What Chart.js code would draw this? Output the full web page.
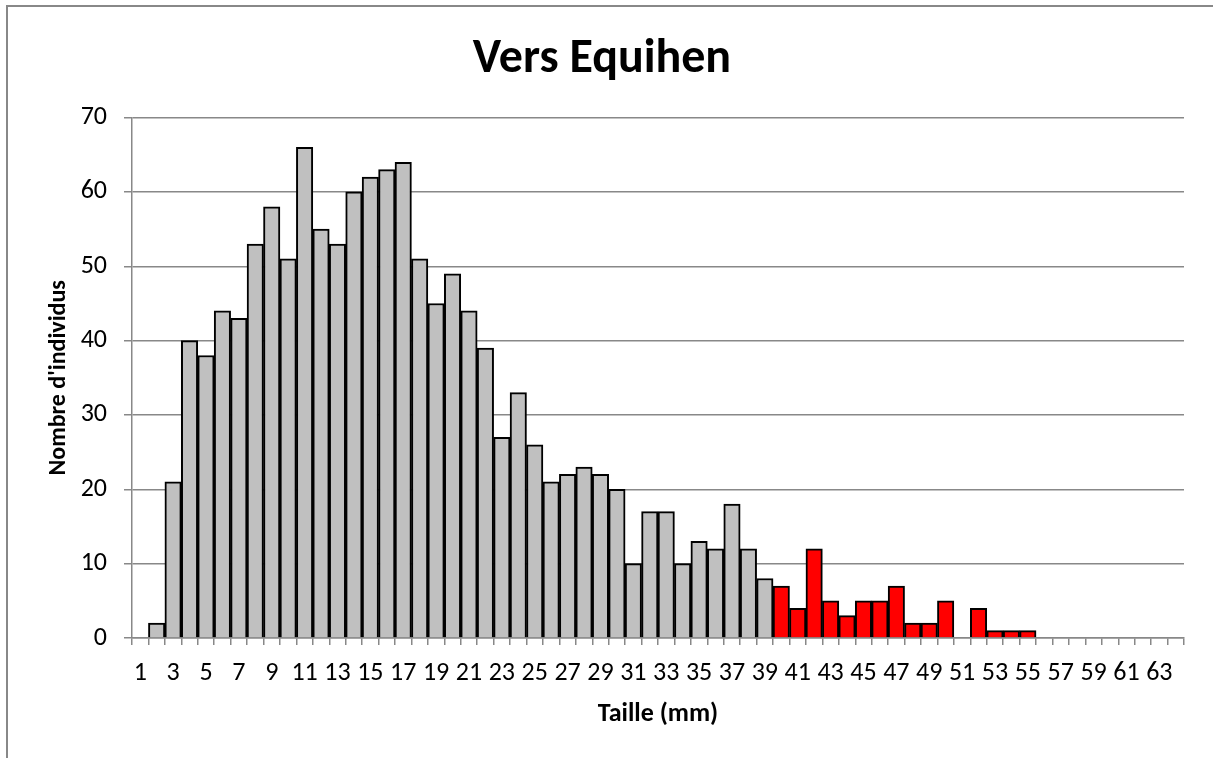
<!DOCTYPE html>
<html lang="fr">
<head>
<meta charset="utf-8">
<title>Vers Equihen</title>
<script src="https://cdn.jsdelivr.net/npm/chart.js@4.4.0/dist/chart.umd.min.js"></script>
<style>
  html,body{margin:0;padding:0;background:#fff;}
  #wrap{position:relative;width:1213px;height:758px;overflow:hidden;}
  #cadre{position:absolute;left:6px;top:5px;width:1300px;height:900px;
         border-top:2px solid #888;border-left:2px solid #888;pointer-events:none;}
  canvas{position:absolute;left:0;top:0;}
</style>
</head>
<body>
<div id="wrap">
  <div id="cadre"></div>
  <canvas id="histo" width="1213" height="758"></canvas>
</div>
<script>
// classes de taille (mm)
const tailles = [
  '1','2','3','4','5','6','7','8','9','10','11','12','13','14','15','16',
  '17','18','19','20','21','22','23','24','25','26','27','28','29','30','31','32',
  '33','34','35','36','37','38','39','40','41','42','43','44','45','46','47','48',
  '49','50','51','52','53','54','55','56','57','58','59','60','61','62','63','64'
];
// nombre d'individus par classe
const effectifs = [
  0, 2, 21, 40, 38, 44, 43, 53, 58, 51, 66, 55, 53, 60, 62, 63,
  64, 51, 45, 49, 44, 39, 27, 33, 26, 21, 22, 23, 22, 20, 10, 17,
  17, 10, 13, 12, 18, 12, 8, 7, 4, 12, 5, 3, 5, 5, 7, 2,
  2, 5, 0, 4, 1, 1, 1, 0, 0, 0, 0, 0, 0, 0, 0, 0
];
const graduationsY = [0, 10, 20, 30, 40, 50, 60, 70];
const tailleMinRouge = 40;   // les grands individus en rouge

const gris = '#888888';
const police = "Calibri, Carlito, Lato, 'Open Sans', sans-serif";

new Chart(document.getElementById('histo'), {
  type: 'bar',
  data: {
    labels: tailles,
    datasets: [{
      data: effectifs,
      backgroundColor: tailles.map(t => Number(t) >= tailleMinRouge ? '#ff0000' : '#c0c0c0'),
      borderColor: '#000',
      borderWidth: 2,
      barPercentage: 1,
      categoryPercentage: 1
    }]
  },
  options: {
    responsive: false,
    animation: false,
    layout: { padding: { left: 20, right: 29, top: 0, bottom: 0 } },
    plugins: {
      legend: { display: false },
      tooltip: { enabled: false },
      title: {
        display: true,
        text: 'Vers Equihen',
        color: '#000',
        font: { family: police, size: 48, weight: 'bold' },
        padding: { top: 31, bottom: 29 }
      }
    },
    scales: {
      x: {
        offset: true,
        grid: { offset: true, drawOnChartArea: false, color: gris, lineWidth: 1.5, tickLength: 7 },
        border: { color: gris, width: 1.5 },
        ticks: {
          autoSkip: false, maxRotation: 0, padding: 13, color: '#000',
          font: { family: police, size: 26 },
          callback: (v, i) => i % 2 === 0 ? tailles[i] : ''
        },
        title: {
          display: true, text: 'Taille (mm)', color: '#000',
          font: { family: police, size: 26, weight: 'bold' },
          padding: { top: 0, bottom: 28 }
        },
        afterFit: s => { s.height = 120; }
      },
      y: {
        min: 0, max: 70,
        afterBuildTicks: s => { s.ticks = graduationsY.map(v => ({ value: v })); },
        grid: { color: gris, lineWidth: 1.5, tickLength: 8 },
        border: { color: gris, width: 1.5 },
        ticks: { padding: 17, color: '#000', font: { family: police, size: 26 } },
        title: {
          display: true, text: "Nombre d'individus", color: '#000',
          font: { family: police, size: 24, weight: 'bold' },
          padding: { top: 25, bottom: 0 }
        },
        afterFit: s => { s.width = 112; }
      }
    }
  }
});
</script>
</body>
</html>
